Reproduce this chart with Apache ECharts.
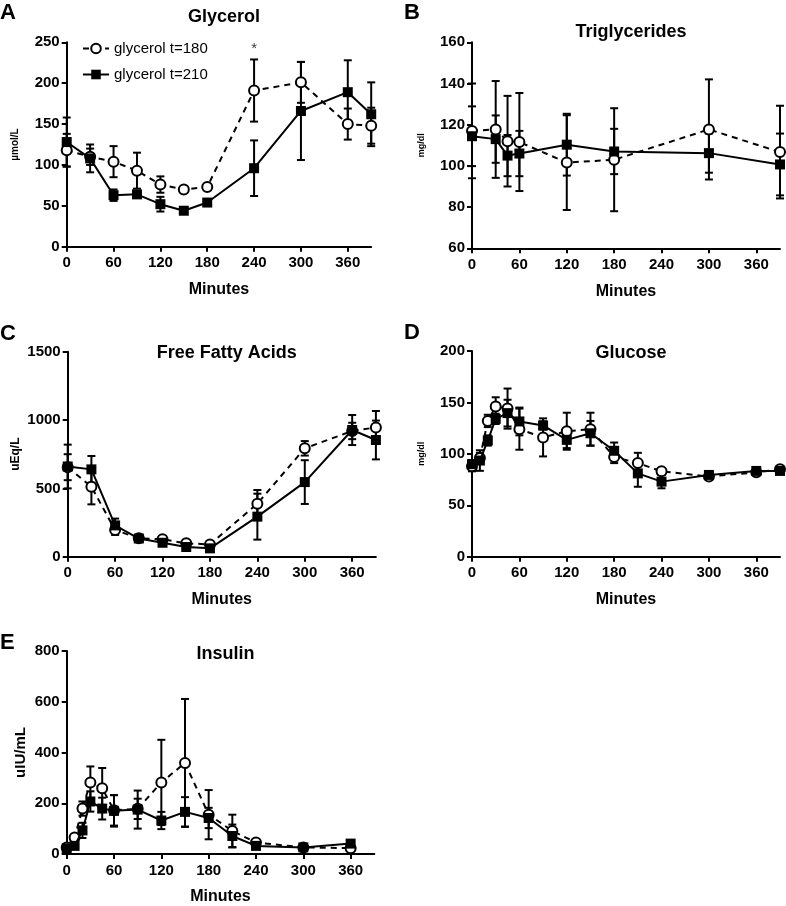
<!DOCTYPE html>
<html><head><meta charset="utf-8">
<script src="https://cdn.jsdelivr.net/npm/echarts@6/dist/echarts.min.js"></script>
<style>html,body{margin:0;padding:0;background:#fff}#c{width:786px;height:906px}</style>
</head><body><div id="c"></div>
<script>
// ---------- data ----------
const xTicks = [0, 60, 120, 180, 240, 300, 360];

const timeA = [0, 30, 60, 90, 120, 150, 180, 240, 300, 360, 390];
const glyc180 = [118, 110, 104, 93, 76, 70, 73, 191, 201, 150, 148];
const glyc180Err = [20, 10, 19, 22, 10, 3, 3, 38, 25, 19, 22];
const glyc210 = [128, 108, 63, 64, 52, 44, 54, 96, 166, 189, 162];
const glyc210Err = [30, 17, 7, 4, 9, 4, 3, 34, 60, 39, 39];
const asteriskA = [[240, 242]];

const timeB = [0, 30, 45, 60, 120, 180, 300, 390];
const tg180 = [117, 117.7, 112, 111.6, 101.6, 103, 117.7, 106.7];
const tg180Err = [23, 23.5, 22, 23.8, 23, 25, 24.3, 22.5];
const tg210 = [114.4, 113, 105, 106, 110.3, 107, 106.2, 100.7];
const tg210Err = [14.5, 11.5, 10, 11, 15, 11, 9.5, 15];

const timeC = [0, 30, 60, 90, 120, 150, 180, 240, 300, 360, 390];
const ffa180 = [655, 512, 195, 135, 127, 98, 90, 388, 793, 920, 946];
const ffa180Err = [95, 129, 36, 20, 25, 10, 10, 100, 53, 60, 120];
const ffa210 = [660, 639, 229, 133, 102, 71, 61, 293, 546, 927, 854];
const ffa210Err = [160, 98, 50, 20, 15, 10, 8, 168, 160, 110, 142];

const timeD = [0, 10, 20, 30, 45, 60, 90, 120, 150, 180, 210, 240, 300, 360, 390];
const glu180 = [88, 96, 132, 146, 144, 124, 116, 122, 124, 97, 91, 83, 78, 82, 85];
const glu180Err = [5, 5, 6, 9, 19.5, 20, 18.5, 18, 16, 6, 10, 3, 3, 3, 3];
const glu210 = [90, 93.5, 113, 134, 139.6, 131.5, 127.6, 113.6, 120, 103, 81, 73, 79.5, 83.4, 83.4];
const glu210Err = [4, 10, 5, 5, 13, 13.5, 4, 8, 12, 8, 13, 6.5, 3, 3, 3];

const timeE = [0, 10, 20, 30, 45, 60, 90, 120, 150, 180, 210, 240, 300, 360];
const ins180 = [26, 65, 179, 282, 259, 172, 178, 282, 359, 155, 91, 45, 26, 23];
const ins180Err = [8, 10, 28, 63, 80, 60, 40, 168, 252, 97, 64, 12, 5, 5];
const ins210 = [22, 32, 93, 207, 179, 170, 175, 132, 166, 142, 71, 32, 26, 41];
const ins210Err = [6, 8, 30, 40, 43, 62, 75, 34, 58, 40, 45, 8, 5, 5];

const name180 = 'glycerol t=180';
const name210 = 'glycerol t=210';

const panels = [
  { letter: 'A', title: 'Glycerol', unit: 'µmol/L', unitSize: 10, t: timeA, a: glyc180, ae: glyc180Err, b: glyc210, be: glyc210Err, ymin: 0, ymax: 250, yint: 50,
    grid: { left: 66.7, top: 42.3, width: 304.5, height: 204.4 }, titleTop: 3, letterTop: 2, letterLeft: 0 },
  { letter: 'B', title: 'Triglycerides', unit: 'mg/dl', unitSize: 9, t: timeB, a: tg180, ae: tg180Err, b: tg210, be: tg210Err, ymin: 60, ymax: 160, yint: 20,
    grid: { left: 472, top: 42.3, width: 308, height: 206 }, titleTop: 18, letterTop: 2, letterLeft: 404 },
  { letter: 'C', title: 'Free Fatty Acids', unit: 'uEq/L', unitSize: 12, t: timeC, a: ffa180, ae: ffa180Err, b: ffa210, be: ffa210Err, ymin: 0, ymax: 1500, yint: 500,
    grid: { left: 67.7, top: 351.7, width: 308.2, height: 205 }, titleTop: 339, letterTop: 323, letterLeft: 0 },
  { letter: 'D', title: 'Glucose', unit: 'mg/dl', unitSize: 9, t: timeD, a: glu180, ae: glu180Err, b: glu210, be: glu210Err, ymin: 0, ymax: 200, yint: 50,
    grid: { left: 472, top: 351, width: 308, height: 205.7 }, titleTop: 339, letterTop: 322, letterLeft: 404 },
  { letter: 'E', title: 'Insulin', unit: 'uIU/mL', unitSize: 15, t: timeE, a: ins180, ae: ins180Err, b: ins210, be: ins210Err, ymin: 0, ymax: 800, yint: 200,
    grid: { left: 66.7, top: 651, width: 307.6, height: 205.7 }, titleTop: 640, letterTop: 632, letterLeft: 0 }
];

const FONT = '"Liberation Sans", Arial, Helvetica, sans-serif';

function errRender(params, api) {
  const x = api.value(0), lo = api.value(1), hi = api.value(2);
  const p1 = api.coord([x, hi]), p2 = api.coord([x, lo]);
  const w = 4;
  const st = { stroke: '#000', lineWidth: 2 };
  return { type: 'group', children: [
    { type: 'line', shape: { x1: p1[0], y1: p1[1], x2: p2[0], y2: p2[1] }, style: st },
    { type: 'line', shape: { x1: p1[0] - w, y1: p1[1], x2: p1[0] + w, y2: p1[1] }, style: st },
    { type: 'line', shape: { x1: p2[0] - w, y1: p2[1], x2: p2[0] + w, y2: p2[1] }, style: st }
  ]};
}

const grids = [], xAxes = [], yAxes = [], series = [], titles = [];
panels.forEach((p, i) => {
  grids.push(Object.assign({ containLabel: false }, p.grid));
  const cx = p.grid.left + p.grid.width / 2;
  xAxes.push({
    gridIndex: i, type: 'value', min: 0, max: 390, interval: 60,
    name: 'Minutes', nameLocation: 'middle', nameGap: 35,
    nameTextStyle: { fontFamily: FONT, fontWeight: 'bold', fontSize: 16, color: '#000' },
    axisLine: { lineStyle: { color: '#000', width: 2 } },
    axisTick: { customValues: xTicks, length: 5, lineStyle: { color: '#000', width: 2 } },
    axisLabel: { customValues: xTicks, margin: 9, fontFamily: FONT, fontWeight: 'bold', fontSize: 15, color: '#000' },
    splitLine: { show: false }
  });
  yAxes.push({
    gridIndex: i, type: 'value', min: p.ymin, max: p.ymax, interval: p.yint,
    name: p.unit, nameLocation: 'middle', nameRotate: 90, nameGap: i === 4 ? 38 : 46,
    nameTextStyle: { fontFamily: FONT, fontWeight: 'bold', fontSize: p.unitSize, color: '#000' },
    axisLine: { show: true, lineStyle: { color: '#000', width: 2 } },
    axisTick: { show: true, length: 5, lineStyle: { color: '#000', width: 2 } },
    axisLabel: { margin: 7, formatter: v => String(v), fontFamily: FONT, fontWeight: 'bold', fontSize: 15, color: '#000' },
    splitLine: { show: false }
  });
  titles.push({ text: p.title, left: cx, top: p.titleTop, textAlign: 'center',
    textStyle: { fontFamily: FONT, fontWeight: 'bold', fontSize: 18, color: '#000' } });
  titles.push({ text: p.letter, left: p.letterLeft, top: p.letterTop, textAlign: 'left', padding: 0,
    textStyle: { fontFamily: FONT, fontWeight: 'bold', fontSize: 22, color: '#000' } });

  const errA = p.t.map((x, k) => [x, p.a[k] - p.ae[k], p.a[k] + p.ae[k]]);
  const errB = p.t.map((x, k) => [x, p.b[k] - p.be[k], p.b[k] + p.be[k]]);
  series.push({ type: 'custom', xAxisIndex: i, yAxisIndex: i, renderItem: errRender, data: errA, encode: { x: 0, y: [1, 2] }, z: 1, silent: true });
  series.push({ type: 'custom', xAxisIndex: i, yAxisIndex: i, renderItem: errRender, data: errB, encode: { x: 0, y: [1, 2] }, z: 1, silent: true });
  series.push({
    name: name180, type: 'line', xAxisIndex: i, yAxisIndex: i,
    data: p.t.map((x, k) => [x, p.a[k]]),
    symbol: 'circle', symbolSize: 10, showAllSymbol: true,
    lineStyle: { color: '#000', width: 2, type: [6, 5] },
    itemStyle: { color: '#fff', borderColor: '#000', borderWidth: 2 },
    z: 3, animation: false
  });
  series.push({
    name: name210, type: 'line', xAxisIndex: i, yAxisIndex: i,
    data: p.t.map((x, k) => [x, p.b[k]]),
    symbol: 'rect', symbolSize: 10, showAllSymbol: true,
    lineStyle: { color: '#000', width: 2, type: 'solid' },
    itemStyle: { color: '#000', borderColor: '#000', borderWidth: 0 },
    z: 4, animation: false
  });
});

series.push({
  type: 'scatter', xAxisIndex: 0, yAxisIndex: 0, data: asteriskA, symbolSize: 0.1,
  label: { show: true, position: 'inside', formatter: '*', fontFamily: FONT, fontSize: 15, color: '#000' }, z: 5
});

const chart = echarts.init(document.getElementById('c'), null, { renderer: 'canvas' });
chart.setOption({
  animation: false,
  backgroundColor: '#fff',
  title: titles,
  legend: {
    data: [name180, name210], orient: 'vertical', left: 77, top: 36, itemGap: 11,
    itemWidth: 26, itemHeight: 12,
    textStyle: { fontFamily: FONT, fontSize: 15, color: '#000' }
  },
  grid: grids, xAxis: xAxes, yAxis: yAxes, series: series
});
</script></body></html>
